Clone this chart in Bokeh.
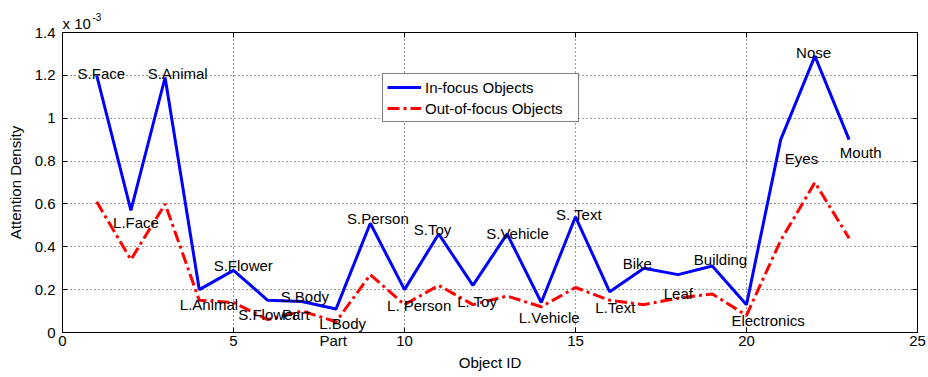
from bokeh.plotting import figure
from bokeh.models import (Range1d, FixedTicker, CustomJSTickFormatter, LinearAxis,
                          Legend, LegendItem, LabelSet, ColumnDataSource, Title)
from bokeh.core.properties import value
from bokeh.embed import file_html
from bokeh.resources import INLINE

# ---- data (attention density, units of 1e-3) ----
object_id = list(range(1, 24))
in_focus = [1.20, 0.57, 1.19, 0.20, 0.29, 0.15, 0.145, 0.11, 0.51, 0.20, 0.46, 0.22,
            0.46, 0.14, 0.54, 0.19, 0.30, 0.27, 0.31, 0.13, 0.90, 1.29, 0.90]
out_focus = [0.61, 0.34, 0.60, 0.15, 0.14, 0.06, 0.10, 0.05, 0.27, 0.13, 0.22, 0.13,
             0.17, 0.12, 0.21, 0.15, 0.13, 0.16, 0.18, 0.08, 0.43, 0.70, 0.44]

# annotation texts and their anchor points (data coords, left / middle)
label_text = ["S.Face", "S.Animal", "L.Face", "L.Animal", "S.Flower", "S.Flower",
              "S.Body", "Part", "L.Body", "S. Text", "S.Person", "L. Person", "S.Toy",
              "L. Toy", "S.Vehicle", "L.Vehicle", "L.Text", "Bike", "Leaf",
              "Building", "Electronics", "Eyes", "Nose", "Mouth"]
label_x = [0.44, 2.49, 1.48, 3.43, 4.42, 5.14, 6.38, 6.42, 7.51, 14.43, 8.32, 9.49, 10.27,
           11.54, 12.39, 13.34, 15.58, 16.38, 17.58, 18.46, 19.56, 21.12, 21.45, 22.73]
label_y = [1.208, 1.208, 0.514, 0.133, 0.312, 0.086, 0.167, 0.084, 0.040, 0.550, 0.533,
           0.125, 0.480, 0.145, 0.463, 0.070, 0.117, 0.323, 0.180, 0.343, 0.055,
           0.810, 1.309, 0.841]
# second line of the "L.Body Part" label, which falls below the x axis
part2_text = "Part"

x_ticks = [0, 5, 10, 15, 20, 25]
y_ticks = [0, 0.2, 0.4, 0.6, 0.8, 1.0, 1.2, 1.4]

FONT = "Liberation Sans"
FS = "15px"

p = figure(width=928, height=377, x_range=Range1d(0, 25), y_range=Range1d(0, 1.4),
           output_backend="svg", toolbar_location=None, title_location=None,
           min_border_left=62, min_border_right=11, min_border_top=32, min_border_bottom=45,
           background_fill_color="white", border_fill_color="white")

p.outline_line_color = "black"
p.outline_line_width = 1

fmt_y = CustomJSTickFormatter(code="return tick.toFixed(1).replace(/\\.0$/, '');")
for ax, ticks in ((p.xaxis[0], x_ticks), (p.yaxis[0], y_ticks)):
    ax.ticker = FixedTicker(ticks=ticks)
    ax.major_tick_in = 5
    ax.major_tick_out = 0
    ax.minor_tick_line_color = None
    ax.axis_line_color = "black"
    ax.major_tick_line_color = "black"
    ax.major_label_text_font = FONT
    ax.major_label_text_font_size = FS
    ax.major_label_text_color = "black"
    ax.axis_label_text_font = FONT
    ax.axis_label_text_font_size = FS
    ax.axis_label_text_font_style = "normal"
    ax.axis_label_text_color = "black"
p.yaxis[0].formatter = fmt_y
p.xaxis[0].major_label_standoff = 3
p.yaxis[0].major_label_standoff = 7
p.xaxis[0].axis_label = "Object ID"
p.yaxis[0].axis_label = "Attention Density"
p.xaxis[0].axis_label_standoff = 5
p.yaxis[0].axis_label_standoff = 8

blank = CustomJSTickFormatter(code="return '';")
for loc, ticks in (("above", x_ticks), ("right", y_ticks)):
    ax = LinearAxis(ticker=FixedTicker(ticks=ticks), formatter=blank,
                    major_tick_in=5, major_tick_out=0, minor_tick_line_color=None,
                    axis_line_color="black", major_tick_line_color="black",
                    major_label_text_font_size="1px", major_label_standoff=0)
    p.add_layout(ax, loc)

# exponent note above the frame: "x 10" with raised "-3"
p.add_layout(Title(text="x 10", align="left", offset=0, standoff=2,
                   text_font=FONT, text_font_size=FS, text_font_style="normal",
                   text_color="black", vertical_align="bottom"), "above")
p.add_layout(Title(text="-3", align="left", offset=30, standoff=-18,
                   text_font=FONT, text_font_size="10px", text_font_style="normal",
                   text_color="black", vertical_align="bottom"), "above")
# second line of "L.Body Part" below the axis
p.add_layout(Title(text=part2_text, align="left", offset=257, standoff=-84,
                   text_font=FONT, text_font_size=FS, text_font_style="normal",
                   text_color="black", vertical_align="top"), "below")

for g, ticks in ((p.xgrid[0], x_ticks), (p.ygrid[0], y_ticks)):
    g.ticker = FixedTicker(ticks=ticks)
    g.grid_line_color = "black"
    g.grid_line_dash = "1 3"
    g.grid_line_width = 1
    g.grid_line_alpha = 0.8

r_in = p.line(object_id, in_focus, line_color="#0000ff", line_width=3)
r_out = p.line(object_id, out_focus, line_color="#ff0000", line_width=3, line_dash="12 4 3 4")

labels = LabelSet(x="x", y="y", text="t",
                  source=ColumnDataSource(dict(x=label_x, y=label_y, t=label_text)),
                  text_font=value(FONT), text_font_size=value(FS), text_color="black",
                  text_align="left", text_baseline="middle")
p.add_layout(labels)

legend = Legend(items=[LegendItem(label="In-focus Objects", renderers=[r_in]),
                       LegendItem(label="Out-of-focus Objects", renderers=[r_out])],
                location=(320, 210), margin=0, padding=4, spacing=3,
                label_text_font=FONT, label_text_font_size=FS, label_text_color="black",
                label_height=18, glyph_height=18, glyph_width=34, label_standoff=4,
                label_width=149,
                border_line_color="black", border_line_width=1,
                background_fill_color="white", background_fill_alpha=1)
p.add_layout(legend)

open("out.html", "w").write(file_html(p, INLINE))
